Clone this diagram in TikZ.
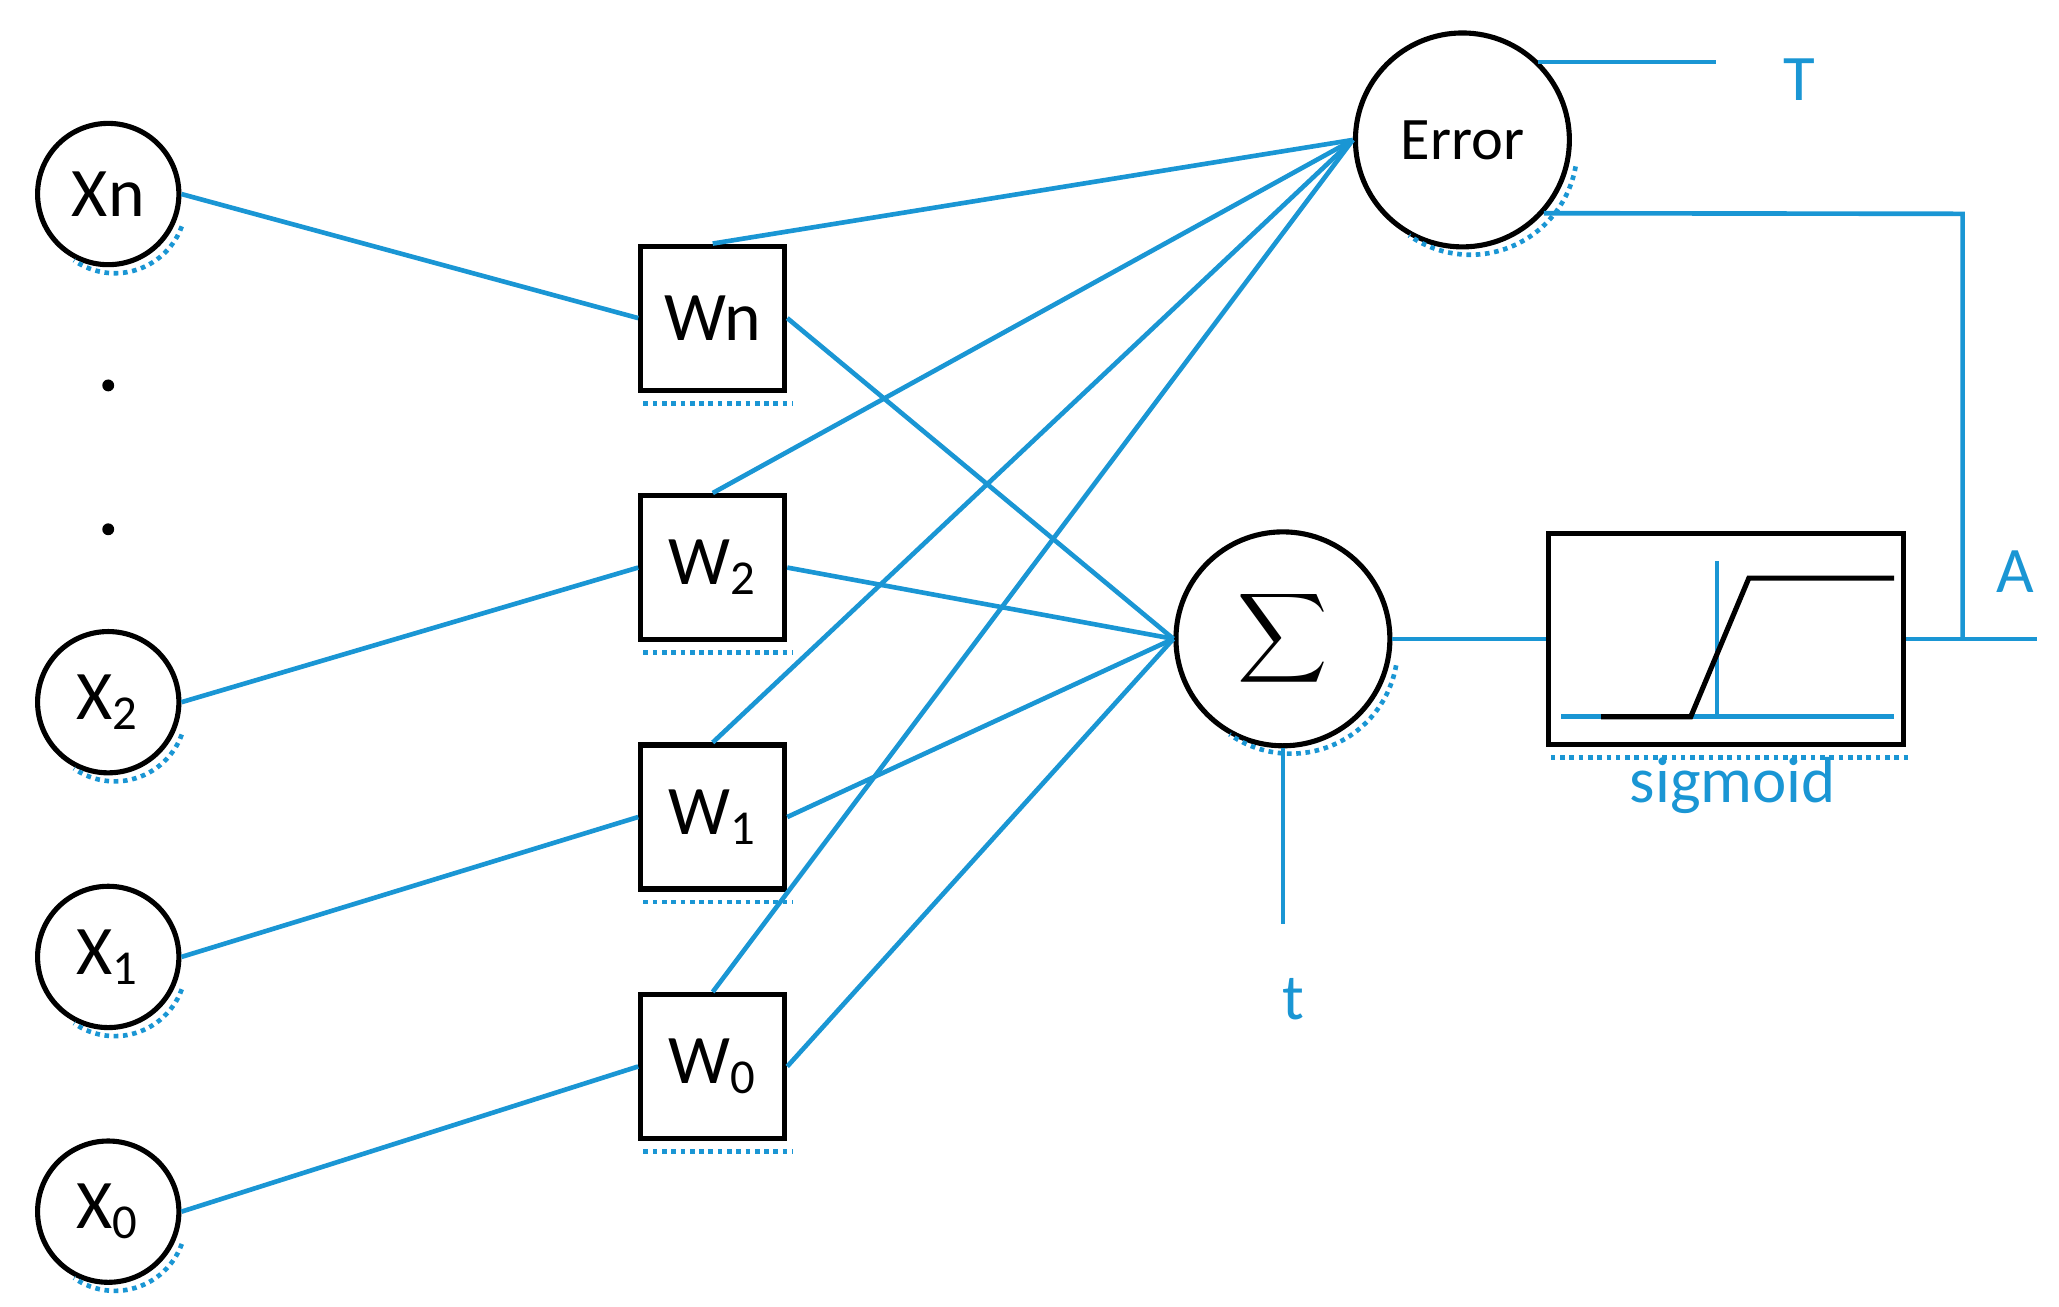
\documentclass[tikz,border=0pt]{standalone}
\usepackage{fontspec}
\setmainfont{Carlito}
\definecolor{lb}{HTML}{1A96D4}
\begin{document}
\begin{tikzpicture}[x=0.01cm,y=-0.01cm,
  circ/.style={circle,draw,line width=1.1pt,minimum size=1.07cm,inner sep=0pt,font=\fontsize{15}{15}\selectfont},
  box/.style={rectangle,draw,line width=1.1pt,minimum size=1.09cm,inner sep=0pt,font=\fontsize{15}{15}\selectfont},
  big/.style={circle,draw,line width=1.1pt,minimum size=1.62cm,inner sep=0pt},
  con/.style={lb,line width=1pt},
  lab/.style={lb,font=\fontsize{14}{14}\selectfont},
  shd/.style={lb,densely dotted,line width=1pt}]
\useasboundingbox (0,0) rectangle (1560,990);
% inputs
\node[circ] (xn) at (82,147) {Xn};
\node[circ] (x2) at (82,532) {X\textsubscript{2}};
\node[circ] (x1) at (82,725) {X\textsubscript{1}};
\node[circ] (x0) at (82,918) {X\textsubscript{0}};
\fill (82,292) circle (4.5);
\fill (82,401) circle (4.5);
% weights
\node[box] (wn) at (540,241) {Wn};
\node[box] (w2) at (540,430) {W\textsubscript{2}};
\node[box] (w1) at (540,619) {W\textsubscript{1}};
\node[box] (w0) at (540,808) {W\textsubscript{0}};
% sum and error
\node[big] (sum) at (972,484) {\scalebox{1.35}{$\displaystyle\sum$}};
\node[big,font=\fontsize{13}{13}\selectfont] (err) at (1108,106) {Error};
\node[rectangle,draw,line width=1.1pt,minimum width=2.69cm,minimum height=1.6cm,inner sep=0pt] (sig) at (1307.5,484) {};
\node[lab] (siglab) at (1313,595) {sigmoid};
% shadows
\foreach \n in {xn,x2,x1,x0}{
  \draw[shd] ([shift={(5,6)}]\n.center) ++(20:54) arc (20:125:54);}
\foreach \n in {sum,err}{
  \draw[shd] ([shift={(6,6)}]\n.center) ++(10:81) arc (10:125:81);}
\foreach \n in {wn,w2,w1,w0}{
  \draw[shd] ([shift={(4,8)}]\n.south west) -- ([shift={(4,8)}]\n.south east);}
\draw[shd] ([shift={(4,8)}]sig.south west) -- ([shift={(4,8)}]sig.south east);
% connections
\draw[con] (xn.east) -- (wn.west);
\draw[con] (x2.east) -- (w2.west);
\draw[con] (x1.east) -- (w1.west);
\draw[con] (x0.east) -- (w0.west);
\foreach \n in {wn,w2,w1,w0}{
  \draw[con] (\n.north) -- (err.west);
  \draw[con] (\n.east) -- (sum.west);}
\draw[con] (sum.east) -- (sig.west);
\coordinate (aend) at (1543,484);
\coordinate (j) at (1487,484);
\coordinate (jt) at (1487,162);
\draw[con] (sig.east) -- (aend);
\draw[con] (j) -- (jt) -- (err.-42);
\node[lab] (A) at (1527,433) {A};
\coordinate (ts) at (1165,47);
\coordinate (tend) at (1300,47);
\draw[con] (ts) -- (tend);
\node[lab] (T) at (1363,60) {T};
\coordinate (tb) at (972,700);
\draw[con] (sum.south) -- (tb);
\node[lab] (t) at (980,757) {t};
% sigmoid plot
\draw[con] (1183,543) -- (1435,543);
\draw[con] (1301,425) -- (1301,543);
\draw[line width=1.1pt] (1213,543) -- (1281,543) -- (1325,438) -- (1435,438);
\end{tikzpicture}
\end{document}
